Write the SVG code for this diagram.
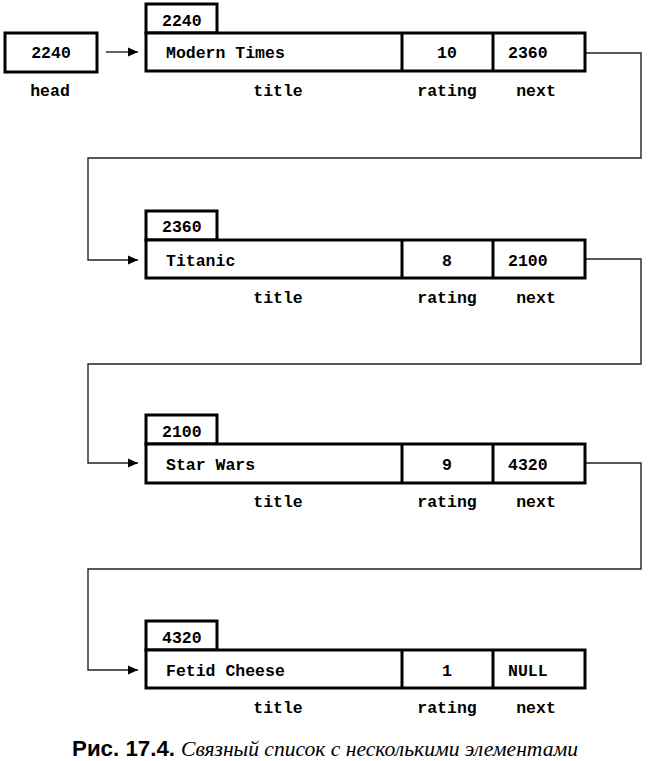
<svg xmlns="http://www.w3.org/2000/svg" width="651" height="761" viewBox="0 0 651 761">
<style>
.box{fill:#fff;stroke:#000;stroke-width:3}
.div{stroke:#000;stroke-width:3}
.t{font-family:"Liberation Mono","Courier New",monospace;font-weight:bold;font-size:16.5px;fill:#000}
.c{text-anchor:middle}
.con{fill:none;stroke:#222;stroke-width:1.4}
.cap1{font-family:"Liberation Sans",Arial,sans-serif;font-weight:bold;font-size:22px}
.cap2{font-family:"Liberation Serif","Times New Roman","DejaVu Serif",serif;font-style:italic;font-size:21px}
</style>
<defs>
<marker id="ah" viewBox="0 0 10 10" refX="10" refY="5" markerWidth="10" markerHeight="10" markerUnits="userSpaceOnUse" orient="auto">
<path d="M0,0.5 L10,5 L0,9.5 Z" fill="#000"/>
</marker>
</defs>
<rect width="651" height="761" fill="#fff"/>

<g id="connectors">
<line class="con" x1="106" y1="52" x2="138" y2="52" marker-end="url(#ah)"/>
<polyline class="con" points="585,53 641,53 641,158 88,158 88,260 138,260" marker-end="url(#ah)"/>
<polyline class="con" points="585,259 641,259 641,364 88,364 88,463 138,463" marker-end="url(#ah)"/>
<polyline class="con" points="585,463 641,463 641,569 88,569 88,670 138,670" marker-end="url(#ah)"/>
</g>

<g id="head">
<rect class="box" x="5" y="33" width="92" height="39"/>
<text class="t c" x="51" y="58">2240</text>
<text class="t c" x="50" y="96">head</text>
</g>

<g id="node1">
<rect class="box" x="146" y="4" width="71" height="29"/>
<text class="t" x="162" y="26">2240</text>
<rect class="box" x="146" y="33" width="439" height="38"/>
<line class="div" x1="402" y1="33" x2="402" y2="71"/>
<line class="div" x1="493" y1="33" x2="493" y2="71"/>
<text class="t" x="166" y="58">Modern Times</text>
<text class="t c" x="447" y="58">10</text>
<text class="t" x="508" y="58">2360</text>
<text class="t c" x="278" y="96">title</text>
<text class="t c" x="447" y="96">rating</text>
<text class="t c" x="536" y="96">next</text>
</g>

<g id="node2">
<rect class="box" x="146" y="211" width="71" height="29"/>
<text class="t" x="162" y="232">2360</text>
<rect class="box" x="146" y="240" width="439" height="38"/>
<line class="div" x1="402" y1="240" x2="402" y2="278"/>
<line class="div" x1="493" y1="240" x2="493" y2="278"/>
<text class="t" x="166" y="266">Titanic</text>
<text class="t c" x="447" y="266">8</text>
<text class="t" x="508" y="266">2100</text>
<text class="t c" x="278" y="303">title</text>
<text class="t c" x="447" y="303">rating</text>
<text class="t c" x="536" y="303">next</text>
</g>

<g id="node3">
<rect class="box" x="146" y="415" width="71" height="29"/>
<text class="t" x="162" y="437">2100</text>
<rect class="box" x="146" y="444" width="439" height="39"/>
<line class="div" x1="402" y1="444" x2="402" y2="483"/>
<line class="div" x1="493" y1="444" x2="493" y2="483"/>
<text class="t" x="166" y="470">Star Wars</text>
<text class="t c" x="447" y="470">9</text>
<text class="t" x="508" y="470">4320</text>
<text class="t c" x="278" y="507">title</text>
<text class="t c" x="447" y="507">rating</text>
<text class="t c" x="536" y="507">next</text>
</g>

<g id="node4">
<rect class="box" x="146" y="621" width="71" height="29"/>
<text class="t" x="162" y="643">4320</text>
<rect class="box" x="146" y="650" width="439" height="38"/>
<line class="div" x1="402" y1="650" x2="402" y2="688"/>
<line class="div" x1="493" y1="650" x2="493" y2="688"/>
<text class="t" x="166" y="676">Fetid Cheese</text>
<text class="t c" x="447" y="676">1</text>
<text class="t" x="508" y="676">NULL</text>
<text class="t c" x="278" y="713">title</text>
<text class="t c" x="447" y="713">rating</text>
<text class="t c" x="536" y="713">next</text>
</g>

<g id="caption">
<text class="cap1" x="72" y="756" textLength="103" lengthAdjust="spacingAndGlyphs">Рис. 17.4.</text>
<text class="cap2" x="181" y="756" textLength="397" lengthAdjust="spacingAndGlyphs">Связный список с несколькими элементами</text>
</g>
</svg>
